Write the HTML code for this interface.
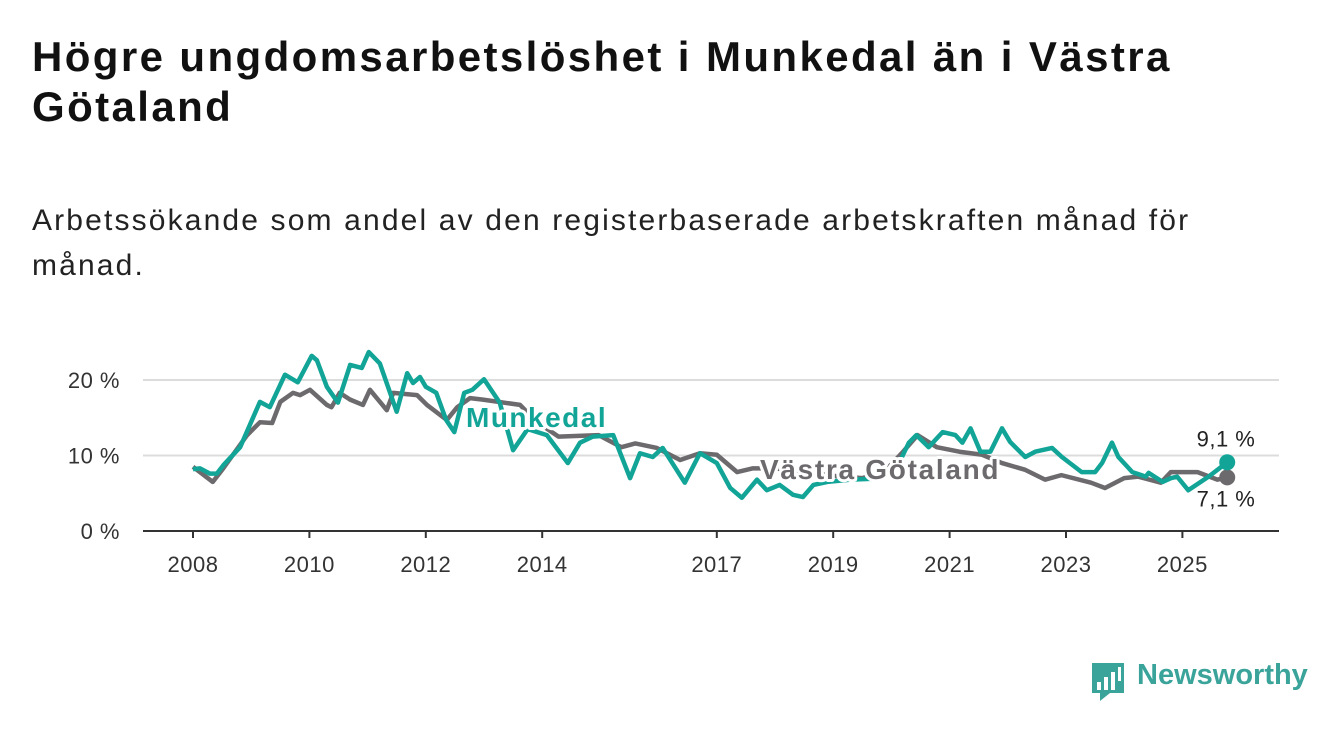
<!DOCTYPE html>
<html><head><meta charset="utf-8"><style>
body{margin:0;width:1340px;height:734px;background:#fff;overflow:hidden;font-family:"Liberation Sans","DejaVu Sans",sans-serif;}
h1{position:absolute;left:32px;top:32px;margin:0;font-size:42px;line-height:50px;font-weight:bold;color:#111;width:1280px;letter-spacing:2.4px}
p.sub{position:absolute;left:32px;top:198px;margin:0;font-size:30px;line-height:45px;color:#222;width:1290px;letter-spacing:2.15px}
svg{position:absolute;left:0;top:0}
.logo{position:absolute;left:1137px;top:659px;font-size:29px;color:#3aa39a;font-weight:bold}
</style></head><body>
<h1>Högre ungdomsarbetslöshet i Munkedal än i Västra<br>Götaland</h1>
<p class="sub">Arbetssökande som andel av den registerbaserade arbetskraften månad för<br>månad.</p>
<svg id="chart" width="1340" height="734"></svg>
<svg width="1340" height="734"><path d="M1092 663h32v30h-14l-10 8v-8h-8z" fill="#3aa39a"/><rect x="1097" y="682" width="4" height="8" fill="#fff"/><rect x="1104" y="677" width="4" height="13" fill="#fff"/><rect x="1111" y="672" width="4" height="18" fill="#fff"/><rect x="1118" y="667" width="3" height="14" fill="#fff"/></svg>
<div class="logo">Newsworthy</div>
<script>
const yTicks=[0,10,20];
const xTicks=[2008,2010,2012,2014,2017,2019,2021,2023,2025];
const munkDates=[2008.0,2008.12,2008.29,2008.41,2008.52,2008.81,2009.15,2009.32,2009.58,2009.8,2010.04,2010.13,2010.3,2010.49,2010.7,2010.9,2011.02,2011.21,2011.5,2011.68,2011.78,2011.9,2012.0,2012.18,2012.35,2012.49,2012.66,2012.8,2013.0,2013.27,2013.5,2013.75,2014.08,2014.44,2014.65,2014.87,2015.22,2015.51,2015.68,2015.9,2016.07,2016.45,2016.71,2017.0,2017.23,2017.43,2017.69,2017.86,2018.08,2018.31,2018.48,2018.66,2018.9,2019.3,2019.63,2019.9,2020.1,2020.3,2020.43,2020.64,2020.88,2021.1,2021.22,2021.36,2021.53,2021.7,2021.9,2022.04,2022.3,2022.47,2022.76,2022.93,2023.27,2023.5,2023.62,2023.79,2023.9,2024.14,2024.37,2024.42,2024.66,2024.8,2024.91,2025.1,2025.45,2025.77];
const munkValues=[8.2,8.3,7.6,7.6,8.7,11.1,17.1,16.4,20.7,19.7,23.2,22.6,19.1,17.0,22.0,21.6,23.7,22.2,15.8,20.9,19.6,20.4,19.1,18.3,14.7,13.1,18.3,18.7,20.1,17.0,10.7,13.5,12.7,9.0,11.7,12.5,12.7,7.0,10.3,9.8,11.0,6.4,10.3,9.0,5.7,4.4,6.8,5.4,6.1,4.8,4.5,6.1,6.5,6.8,6.9,7.5,8.5,11.7,12.7,11.1,13.1,12.7,11.7,13.6,10.5,10.5,13.6,11.8,9.8,10.5,11.0,9.8,7.8,7.8,9.0,11.7,9.8,7.8,7.2,7.7,6.5,7.0,7.2,5.4,7.2,9.1];
const vgDates=[2008.0,2008.34,2008.52,2008.93,2009.15,2009.36,2009.5,2009.72,2009.84,2010.01,2010.3,2010.38,2010.52,2010.7,2010.92,2011.04,2011.33,2011.44,2011.85,2012.02,2012.36,2012.54,2012.76,2012.98,2013.62,2013.9,2014.28,2014.97,2015.36,2015.6,2015.97,2016.37,2016.71,2017.0,2017.35,2017.62,2018.0,2018.5,2019.0,2019.5,2019.9,2020.2,2020.45,2020.78,2021.17,2021.56,2021.9,2022.3,2022.64,2022.92,2023.43,2023.67,2024.0,2024.24,2024.63,2024.8,2025.26,2025.6,2025.77];
const vgValues=[8.5,6.5,8.3,12.7,14.4,14.3,17.1,18.3,18.0,18.7,16.7,16.4,18.3,17.4,16.7,18.7,16.0,18.3,18.0,16.7,14.7,16.4,17.6,17.4,16.7,14.5,12.5,12.7,11.1,11.6,11.0,9.4,10.3,10.1,7.8,8.3,8.3,7.8,7.3,7.0,8.0,10.5,12.7,11.1,10.5,10.1,9.0,8.1,6.8,7.4,6.4,5.7,7.0,7.2,6.4,7.8,7.8,6.8,7.1];
const svg=document.getElementById('chart');const NS='http://www.w3.org/2000/svg';
const X=t=>193+(t-2008)*58.2;const Y=v=>531-v*7.55;
function mk(tag,attrs,parent){const e=document.createElementNS(NS,tag);for(const k in attrs)e.setAttribute(k,attrs[k]);(parent||svg).appendChild(e);return e;}
yTicks.forEach(v=>{
 if(v>0){const g=mk('line',{x1:143,x2:1279,y1:Y(v),y2:Y(v),stroke:'#dcdcdc','stroke-width':2});
 
 }
 const t=mk('text',{x:120,y:Y(v)+8,'text-anchor':'end','font-size':22,fill:'#333','letter-spacing':0.5});t.textContent=v+' %';
 
 
});
const ax=mk('line',{x1:143,x2:1279,y1:531,y2:531,stroke:'#333','stroke-width':2});


xTicks.forEach(y=>{
 const tk=mk('line',{x1:X(y),x2:X(y),y1:531,y2:538,stroke:'#333','stroke-width':2});
 
 
 const t=mk('text',{x:X(y),y:572,'text-anchor':'middle','font-size':22,fill:'#333','letter-spacing':0.5});t.textContent=y;
 
 
});
function line(d,v,col,name){const p=mk('polyline',{points:d.map((t,i)=>X(t)+','+Y(v[i])).join(' '),fill:'none',stroke:col,'stroke-width':4.5,'stroke-linejoin':'round'});
 
 }
line(vgDates,vgValues,'#6d6a6e','vastra-gotaland-line');
line(munkDates,munkValues,'#12a597','munkedal-line');
function lab(x,y,txt,col,name,ls){const t=mk('text',{x:x,y:y,'font-size':28,'font-weight':'bold',fill:col,stroke:'#fff','stroke-width':6,'paint-order':'stroke','stroke-linejoin':'round','letter-spacing':ls});t.textContent=txt;
 
 }
lab(466,427,'Munkedal','#12a597','munkedal-label',1.5);
lab(760,479,'Västra Götaland','#6d6a6e','vastra-gotaland-label',1.7);
const lm=munkValues.length-1,lv=vgValues.length-1;
const d1=mk('circle',{cx:X(vgDates[lv]),cy:Y(vgValues[lv]),r:8,fill:'#6d6a6e'});


const d2=mk('circle',{cx:X(munkDates[lm]),cy:Y(munkValues[lm]),r:8,fill:'#12a597'});


const e1=mk('text',{x:1226,y:Y(munkValues[lm])-16,'text-anchor':'middle','font-size':22,fill:'#222',stroke:'#fff','stroke-width':4,'paint-order':'stroke','letter-spacing':0.5});e1.textContent=String(munkValues[lm]).replace('.',',')+' %';


const e2=mk('text',{x:1226,y:Y(vgValues[lv])+29,'text-anchor':'middle','font-size':22,fill:'#222',stroke:'#fff','stroke-width':4,'paint-order':'stroke','letter-spacing':0.5});e2.textContent=String(vgValues[lv]).replace('.',',')+' %';


</script>
</body></html>
